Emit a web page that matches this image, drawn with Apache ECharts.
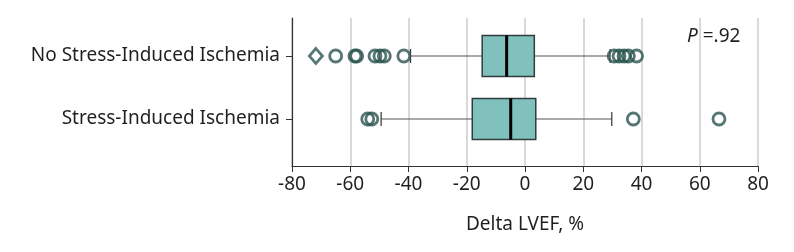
<!DOCTYPE html>
<html>
<head>
<meta charset="utf-8">
<script src="https://cdn.jsdelivr.net/npm/echarts@6/dist/echarts.min.js"></script>
<style>
  html, body { margin: 0; padding: 0; background: #fff; }
  #box_chart { width: 794px; height: 252px; }
</style>
</head>
<body>
<div id="box_chart"></div>
<script>
// initialize the echarts instance
var myChart = echarts.init(document.getElementById("box_chart"));
var option;

// groups, bottom to top (y value 0 = bottom row)
const groups = ["Stress-Induced Ischemia", "No Stress-Induced Ischemia"];

// box stats per group: [min whisker, Q1, median, Q3, max whisker]
const boxStats = [
    [-49.4, -18.1, -4.9, 3.7, 29.8],
    [-39.3, -14.7, -6.3, 3.2, 29.2],
];

// outliers per group
const outliersStress = [-54, -52.6, 37.2, 66.6];
const outliersNoStress = [-65, -58.4, -57.8, -51.5, -49.8, -48.3, -41.6, 30.6, 32.3, 34, 35.5, 38.3];
// extreme outlier (diamond)
const extremeNoStress = [-71.8];

const xTicks = { min: -80, max: 80, interval: 20 };

const fontFamily = "Noto Sans";
const textColor = "#231f20";
const markColor = "#2a5450";

const boxData = boxStats.map((s, i) => [i].concat(s));
const outlierData = []
    .concat(outliersStress.map((v) => [v, 0]))
    .concat(outliersNoStress.map((v) => [v, 1]));
const extremeData = extremeNoStress.map((v) => [v, 1]);

function renderBox(params, api) {
    const cat = api.value(0);
    const pMin = api.coord([api.value(1), cat]);
    const pQ1 = api.coord([api.value(2), cat]);
    const pMed = api.coord([api.value(3), cat]);
    const pQ3 = api.coord([api.value(4), cat]);
    const pMax = api.coord([api.value(5), cat]);
    const half = 20.5;
    const cap = 7;
    const y = pMed[1];
    return {
        type: "group",
        children: [
            {
                type: "line",
                shape: { x1: pMin[0], y1: y, x2: pQ1[0], y2: y },
                style: { stroke: "#555", lineWidth: 1.2 },
            },
            {
                type: "line",
                shape: { x1: pQ3[0], y1: y, x2: pMax[0], y2: y },
                style: { stroke: "#555", lineWidth: 1.2 },
            },
            {
                type: "line",
                shape: { x1: pMin[0], y1: y - cap, x2: pMin[0], y2: y + cap },
                style: { stroke: "#333", lineWidth: 1.2 },
            },
            {
                type: "line",
                shape: { x1: pMax[0], y1: y - cap, x2: pMax[0], y2: y + cap },
                style: { stroke: "#333", lineWidth: 1.2 },
            },
            {
                type: "rect",
                shape: { x: pQ1[0], y: y - half, width: pQ3[0] - pQ1[0], height: half * 2 },
                style: { fill: "#80c1bd", stroke: "#2f3d3c", lineWidth: 1.5 },
            },
            {
                type: "line",
                shape: { x1: pMed[0], y1: y - half, x2: pMed[0], y2: y + half },
                style: { stroke: "#000", lineWidth: 3 },
            },
        ],
    };
}

option = {
    animation: false,
    textStyle: { fontFamily: fontFamily, color: textColor },
    grid: { left: 292, right: 36, top: 18, bottom: 86 },
    xAxis: {
        type: "value",
        min: xTicks.min,
        max: xTicks.max,
        interval: xTicks.interval,
        name: "Delta LVEF, %",
        nameLocation: "middle",
        nameGap: 49,
        nameTextStyle: { fontSize: 19, color: textColor, fontFamily: fontFamily },
        axisLine: { show: true, onZero: false, lineStyle: { color: "#333", width: 1.2 } },
        axisTick: { show: true, length: 6, lineStyle: { color: "#333" } },
        axisLabel: { fontSize: 19, color: textColor, margin: 9, fontFamily: fontFamily },
        splitLine: { show: true, lineStyle: { color: "#d9d9d9", width: 2 } },
    },
    yAxis: {
        type: "value",
        min: -0.746,
        max: 1.603,
        axisLine: { show: true, onZero: false, lineStyle: { color: "#333", width: 1.2 } },
        axisTick: { show: true, length: 6, customValues: [0, 1], lineStyle: { color: "#333" } },
        axisLabel: {
            fontSize: 19,
            color: textColor,
            margin: 12,
            fontFamily: fontFamily,
            customValues: [0, 1],
            formatter: (v) => groups[Math.round(v)] || "",
        },
        splitLine: { show: false },
    },
    graphic: [
        {
            type: "text",
            left: 687,
            top: 27,
            style: {
                text: "{i|P} =.92",
                fontSize: 19,
                fontFamily: fontFamily,
                fill: textColor,
                rich: { i: { fontStyle: "italic", fontSize: 19, fontFamily: fontFamily } },
            },
        },
    ],
    series: [
        {
            type: "custom",
            renderItem: renderBox,
            data: boxData,
            encode: { x: [1, 2, 3, 4, 5], y: 0 },
            z: 3,
        },
        {
            type: "scatter",
            data: outlierData,
            symbol: "circle",
            symbolSize: 12,
            itemStyle: { color: "rgba(0,0,0,0)", borderColor: markColor, borderWidth: 2.8 },
            z: 4,
        },
        {
            type: "scatter",
            data: extremeData,
            symbol: "diamond",
            symbolSize: [13, 15],
            itemStyle: { color: "rgba(0,0,0,0)", borderColor: markColor, borderWidth: 2.8 },
            z: 4,
        },
    ],
};

option && myChart.setOption(option);
</script>
</body>
</html>
